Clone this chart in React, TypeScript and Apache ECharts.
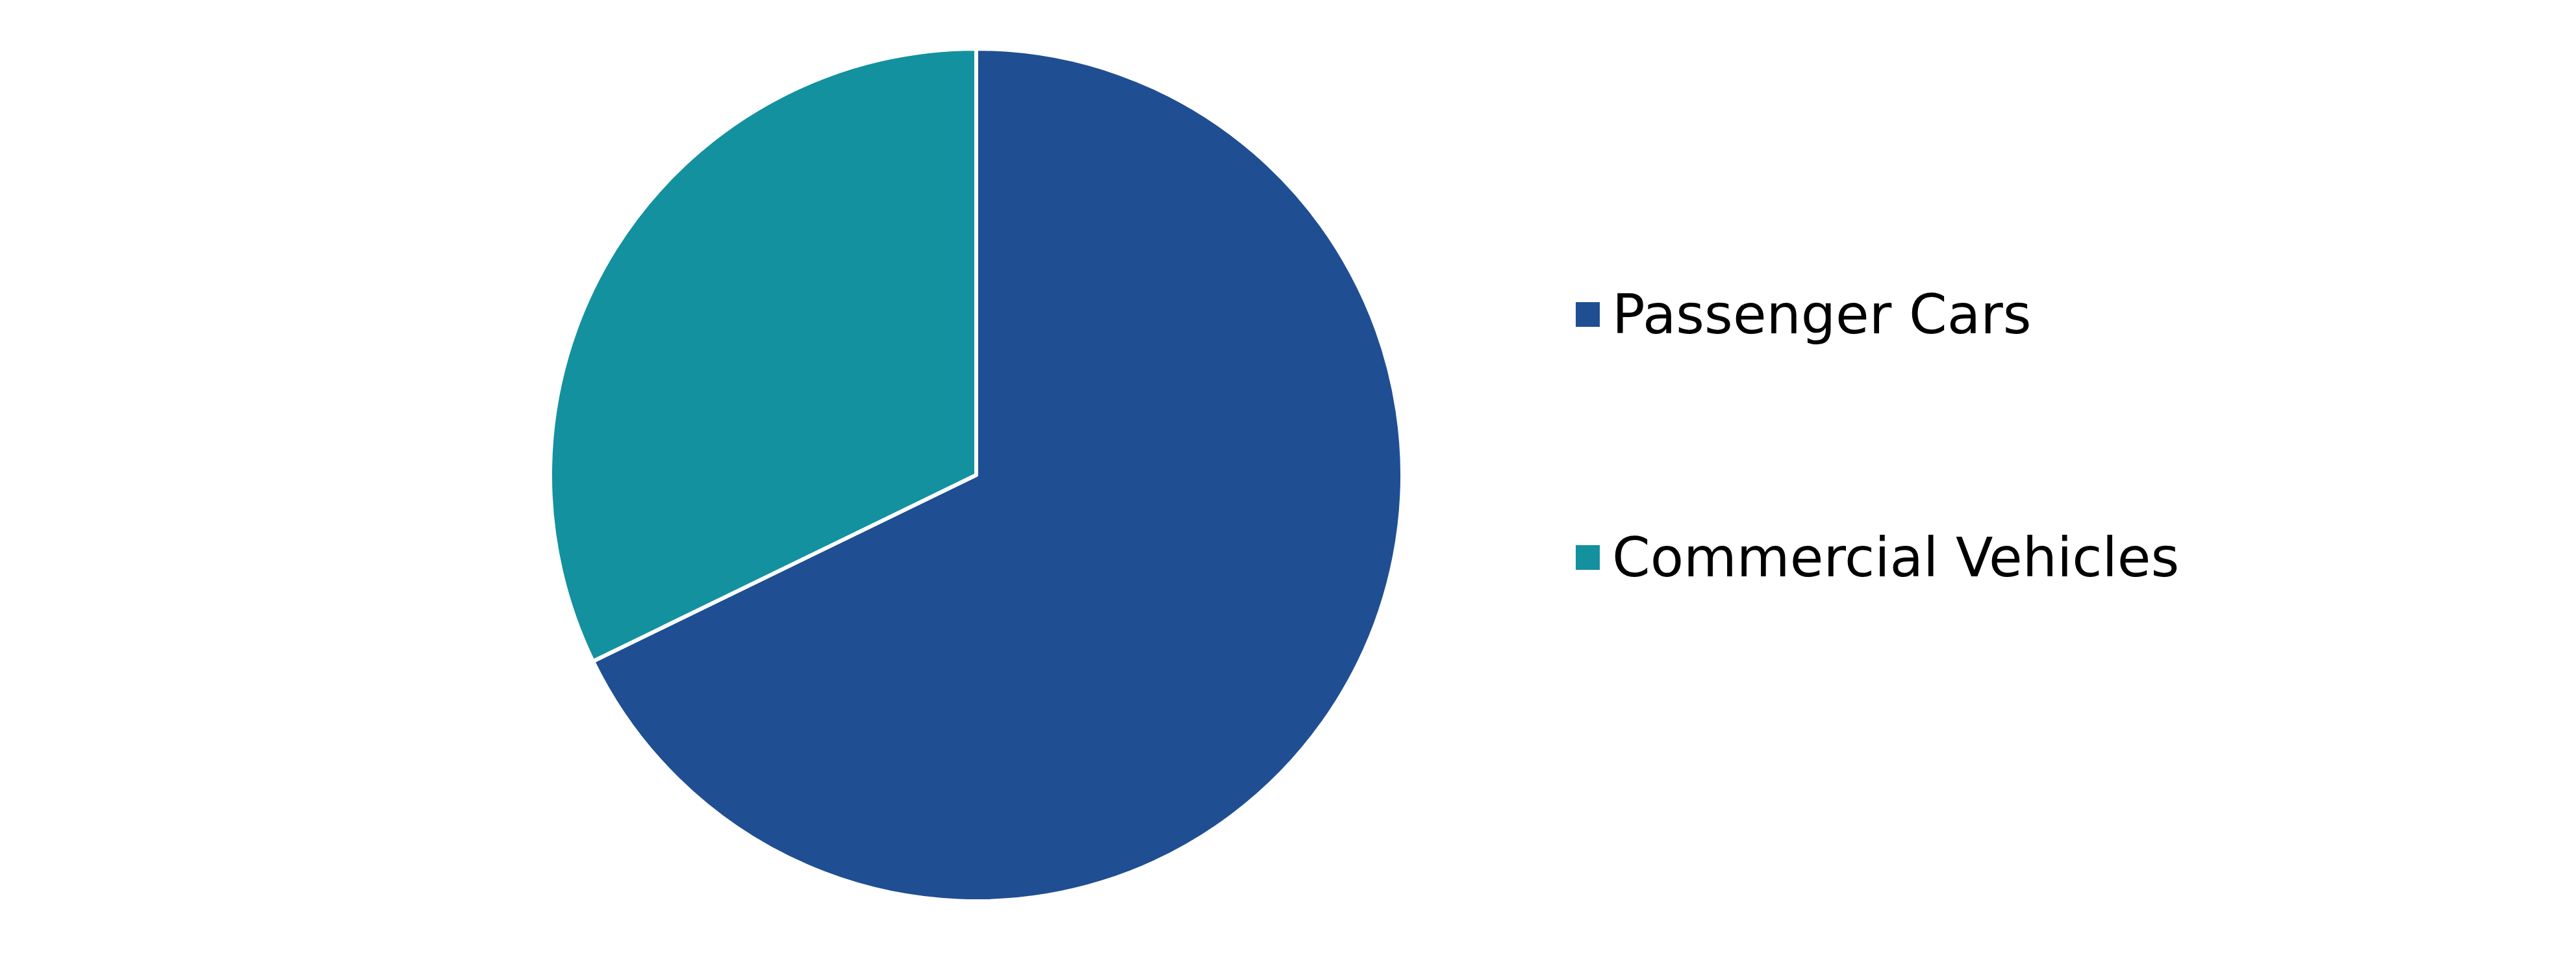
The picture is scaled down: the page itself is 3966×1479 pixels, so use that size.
import * as echarts from 'echarts';
import { useEffect, useRef } from 'react';

const categories = ['Passenger Cars', 'Commercial Vehicles'];
const shares = [67.8, 32.2];
const colors = ['#1f4f92', '#13919f'];

export default function App() {
  const chartRef = useRef<HTMLDivElement>(null);

  useEffect(() => {
    document.body.style.margin = '0';
    if (!chartRef.current) return;
    const chart = echarts.init(chartRef.current, null, { renderer: 'svg' });

    const legendText = {
      fontFamily: 'DejaVu Sans',
      fontSize: 84,
      color: '#000',
      padding: [0, 0, 0, 13],
    };

    const option: echarts.EChartsOption = {
      animation: false,
      color: colors,
      legend: categories.map((name, i) => ({
        data: [name],
        orient: 'vertical',
        left: 2419,
        top: i === 0 ? 437 : 811,
        icon: 'rect',
        itemWidth: 39,
        itemHeight: 40,
        selectedMode: false,
        textStyle: legendText,
      })),
      series: [
        {
          type: 'pie',
          center: [1503, 731],
          radius: 656,
          startAngle: 90,
          clockwise: true,
          label: { show: false },
          labelLine: { show: false },
          silent: true,
          itemStyle: { borderColor: '#fff', borderWidth: 6 },
          data: categories.map((name, i) => ({ name, value: shares[i] })),
        },
      ],
    };

    chart.setOption(option);
    const handleResize = () => chart.resize();
    window.addEventListener('resize', handleResize);
    return () => {
      chart.dispose();
      window.removeEventListener('resize', handleResize);
    };
  }, []);

  return <div ref={chartRef} style={{ width: '100vw', height: '100vh' }} />;
}
